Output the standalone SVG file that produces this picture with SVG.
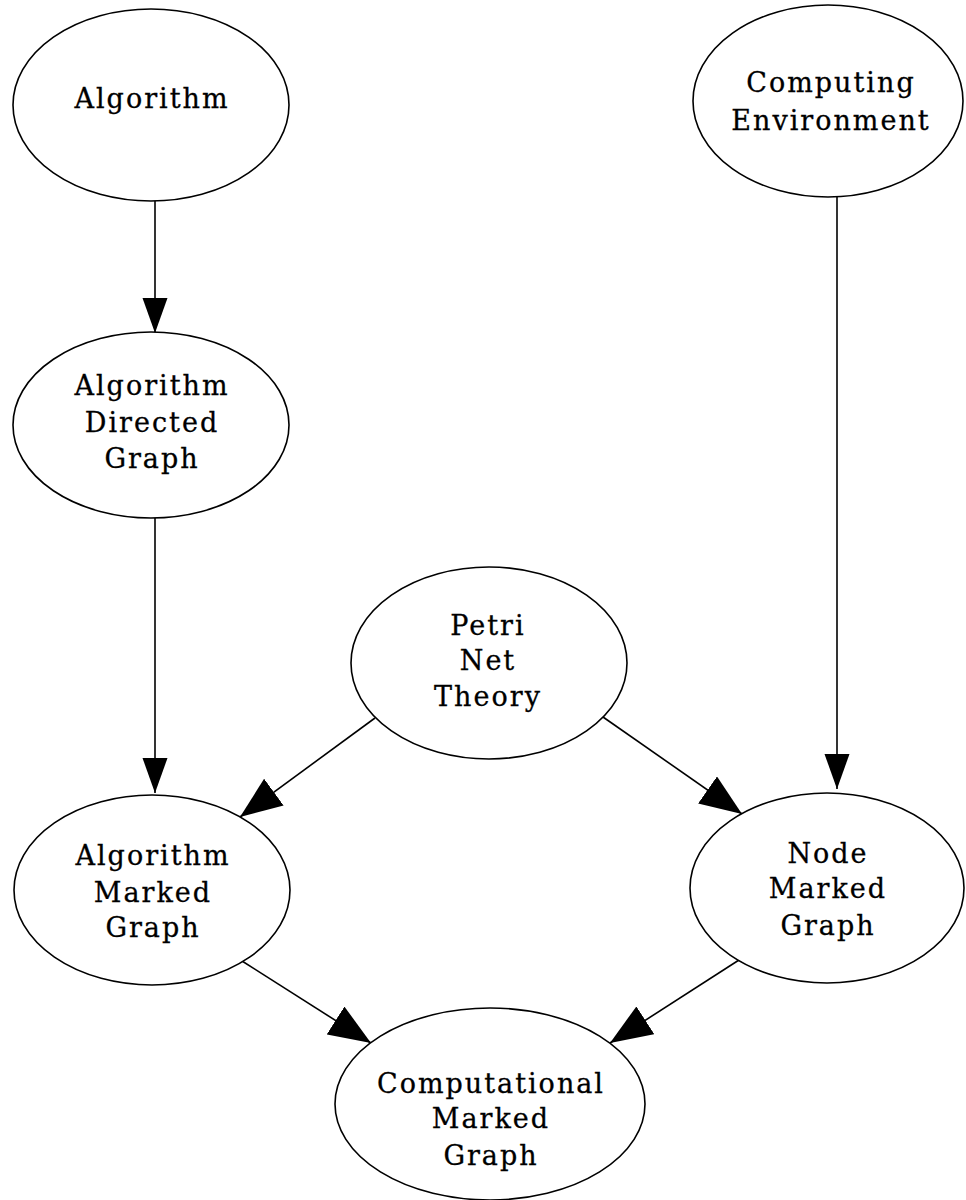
<svg xmlns="http://www.w3.org/2000/svg" width="966" height="1200" viewBox="0 0 966 1200">
<style>
.node ellipse{fill:#fff;stroke:#000;stroke-width:1.6}
.node text{font-family:"DejaVu Serif","Liberation Serif",serif;font-size:27px;letter-spacing:2px;fill:#000;stroke:#000;stroke-width:0.3;text-anchor:middle}
.edge{stroke:#000;stroke-width:1.6;fill:none}
</style>
<defs>
<marker id="arrV" markerUnits="userSpaceOnUse" markerWidth="36" markerHeight="26" refX="35" refY="12.5" orient="auto" viewBox="0 0 36 26">
<path d="M0,0 L35,12.5 L0,25 z" fill="#000"/>
</marker>
<marker id="arrD" markerUnits="userSpaceOnUse" markerWidth="43" markerHeight="34" refX="42" refY="16.5" orient="auto" viewBox="0 0 43 34">
<path d="M0,0 L42,16.5 L0,33 z" fill="#000"/>
</marker>
</defs>
<rect width="966" height="1200" fill="#fff"/>
<g id="connectors">
<line class="edge" x1="155" y1="201" x2="155" y2="333" marker-end="url(#arrV)"/>
<line class="edge" x1="155" y1="518" x2="155" y2="793" marker-end="url(#arrV)"/>
<line class="edge" x1="837" y1="197" x2="837" y2="789" marker-end="url(#arrV)"/>
<line class="edge" x1="375" y1="718" x2="240" y2="817" marker-end="url(#arrD)"/>
<line class="edge" x1="603" y1="717" x2="742" y2="814" marker-end="url(#arrD)"/>
<line class="edge" x1="242" y1="961" x2="371" y2="1043" marker-end="url(#arrD)"/>
<line class="edge" x1="739" y1="960" x2="610" y2="1043" marker-end="url(#arrD)"/>
</g>
<g id="node-algorithm" class="node">
<ellipse cx="151" cy="105" rx="138" ry="96"/>
<text x="152" y="108">Algorithm</text>
</g>
<g id="node-computing-environment" class="node">
<ellipse cx="828" cy="101" rx="135" ry="96"/>
<text x="831" y="92">Computing</text>
<text x="831" y="130">Environment</text>
</g>
<g id="node-algorithm-directed-graph" class="node">
<ellipse cx="151" cy="425" rx="138" ry="93"/>
<text x="152" y="395">Algorithm</text>
<text x="152" y="432">Directed</text>
<text x="152" y="468">Graph</text>
</g>
<g id="node-petri-net-theory" class="node">
<ellipse cx="489" cy="663" rx="138" ry="96"/>
<text x="488" y="635">Petri</text>
<text x="488" y="670">Net</text>
<text x="488" y="706">Theory</text>
</g>
<g id="node-algorithm-marked-graph" class="node">
<ellipse cx="152" cy="890" rx="138" ry="95"/>
<text x="153" y="865">Algorithm</text>
<text x="153" y="902">Marked</text>
<text x="153" y="937">Graph</text>
</g>
<g id="node-node-marked-graph" class="node">
<ellipse cx="827" cy="888" rx="137" ry="95"/>
<text x="828" y="863">Node</text>
<text x="828" y="898">Marked</text>
<text x="828" y="935">Graph</text>
</g>
<g id="node-computational-marked-graph" class="node">
<ellipse cx="490" cy="1104" rx="155" ry="96"/>
<text x="491" y="1093">Computational</text>
<text x="491" y="1128">Marked</text>
<text x="491" y="1165">Graph</text>
</g>
</svg>
